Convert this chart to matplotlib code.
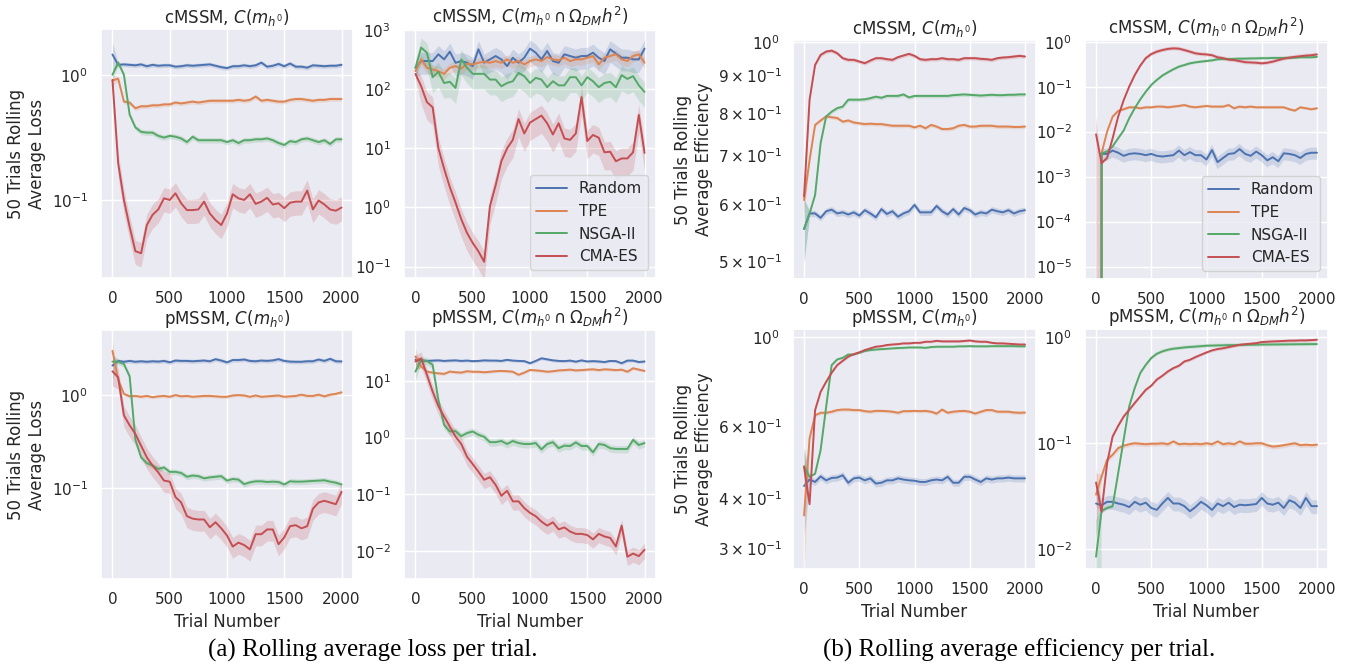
import matplotlib
matplotlib.use("Agg")
import matplotlib.pyplot as plt
import numpy as np
import seaborn as sns

sns.set_theme(style="darkgrid")
plt.rcParams["font.family"] = ["DejaVu Sans"]

trials = np.arange(0, 2001, 50)
METHODS = ["Random", "TPE", "NSGA-II", "CMA-ES"]
COLORS = sns.color_palette("deep")[:4]

# ---- (a) rolling average loss ----
a1_random = [1.45, 1.20, 1.21, 1.20, 1.19, 1.21, 1.17, 1.20, 1.18, 1.19, 1.19, 1.16, 1.17, 1.19, 1.18, 1.19, 1.20, 1.21, 1.18, 1.15, 1.13,
             1.17, 1.17, 1.19, 1.17, 1.19, 1.25, 1.16, 1.18, 1.22, 1.17, 1.23, 1.16, 1.16, 1.14, 1.19, 1.18, 1.17, 1.18, 1.18, 1.20]
a1_tpe = [0.90, 0.93, 0.61, 0.60, 0.54, 0.56, 0.56, 0.57, 0.57, 0.58, 0.58, 0.60, 0.59, 0.60, 0.61, 0.60, 0.61, 0.62, 0.62, 0.62, 0.62,
          0.62, 0.63, 0.62, 0.63, 0.67, 0.62, 0.63, 0.62, 0.61, 0.61, 0.63, 0.64, 0.64, 0.63, 0.62, 0.63, 0.63, 0.64, 0.64, 0.64]
a1_nsga = [1.00, 1.25, 1.00, 0.48, 0.38, 0.35, 0.345, 0.345, 0.325, 0.315, 0.325, 0.32, 0.31, 0.29, 0.32, 0.30, 0.30, 0.30, 0.30, 0.30, 0.29,
           0.30, 0.285, 0.30, 0.30, 0.305, 0.305, 0.31, 0.30, 0.285, 0.275, 0.295, 0.29, 0.305, 0.31, 0.30, 0.29, 0.30, 0.28, 0.305, 0.305]
a1_cma = [0.91, 0.196, 0.10, 0.061, 0.039, 0.0375, 0.063, 0.076, 0.084, 0.103, 0.10, 0.113, 0.094, 0.083, 0.083, 0.084, 0.097, 0.078, 0.069, 0.063, 0.078,
          0.111, 0.103, 0.10, 0.111, 0.093, 0.097, 0.104, 0.092, 0.094, 0.086, 0.095, 0.097, 0.097, 0.119, 0.084, 0.099, 0.092, 0.084, 0.082, 0.087]

a2_random = [228, 296, 296, 296, 385, 316, 427, 277, 296, 277, 243, 468, 277, 316, 360, 316, 243, 337, 277, 337, 480,
             410, 316, 438, 296, 277, 385, 360, 337, 360, 360, 410, 337, 296, 468, 395, 337, 337, 316, 316, 480]
a2_tpe = [200, 316, 228, 213, 200, 180, 228, 243, 222, 266, 260, 277, 288, 277, 296, 277, 316, 277, 296, 260, 296,
          316, 296, 346, 316, 305, 337, 296, 316, 316, 337, 360, 260, 337, 360, 385, 316, 296, 360, 385, 277]
a2_nsga = [228, 500, 410, 158, 195, 126, 132, 104, 316, 228, 180, 180, 180, 144, 144, 111, 126, 135, 187, 164, 126,
           154, 144, 107, 135, 115, 115, 158, 158, 115, 158, 135, 107, 126, 132, 107, 171, 148, 164, 115, 89]
a2_cma = [180, 111, 60, 49, 10, 4.5, 2.2, 1.2, 0.63, 0.37, 0.25, 0.18, 0.12, 1.04, 2.35, 6.0, 9.9, 13.8, 31, 17.7, 27,
          31, 35.5, 26.3, 17, 26.3, 14.6, 13.8, 17.7, 73, 13.2, 16.7, 15, 8.5, 8.7, 6.0, 6.7, 6.7, 8.5, 36.5, 8.3]

a3_random = [2.05, 2.30, 2.25, 2.30, 2.25, 2.28, 2.25, 2.28, 2.26, 2.30, 2.22, 2.32, 2.30, 2.30, 2.28, 2.30, 2.32, 2.28, 2.40, 2.32, 2.22,
             2.35, 2.35, 2.38, 2.30, 2.28, 2.32, 2.30, 2.33, 2.40, 2.30, 2.26, 2.25, 2.25, 2.28, 2.28, 2.38, 2.30, 2.42, 2.28, 2.27]
a3_tpe = [2.95, 1.45, 1.02, 0.96, 0.97, 0.95, 0.97, 0.94, 0.96, 0.97, 0.95, 0.99, 0.96, 0.97, 0.95, 0.96, 0.97, 0.97, 0.96, 0.95, 0.95,
          0.98, 0.99, 0.98, 0.95, 0.98, 0.95, 0.96, 0.97, 0.98, 0.95, 0.96, 0.97, 1.00, 0.97, 0.97, 1.00, 0.96, 1.00, 1.02, 1.06]
a3_nsga = [2.26, 2.26, 2.13, 1.57, 0.33, 0.213, 0.185, 0.174, 0.16, 0.166, 0.149, 0.149, 0.145, 0.132, 0.136, 0.134, 0.127, 0.13, 0.132, 0.134, 0.12,
           0.125, 0.123, 0.11, 0.115, 0.118, 0.118, 0.116, 0.117, 0.116, 0.109, 0.118, 0.117, 0.117, 0.118, 0.119, 0.12, 0.121, 0.117, 0.114, 0.109]
a3_cma = [1.78, 1.53, 0.60, 0.47, 0.38, 0.284, 0.213, 0.174, 0.147, 0.12, 0.117, 0.08, 0.07, 0.05, 0.047, 0.046, 0.046, 0.038, 0.043, 0.037, 0.031,
          0.0236, 0.026, 0.0245, 0.022, 0.032, 0.032, 0.036, 0.036, 0.025, 0.0296, 0.039, 0.04, 0.037, 0.039, 0.06, 0.07, 0.073, 0.07, 0.067, 0.091]

a4_random = [23.5, 22.8, 22.5, 22.8, 23, 22.5, 22.8, 23, 22.5, 22.8, 22.3, 22.5, 23, 22.8, 22.8, 22.5, 23.5, 22.8, 22.5, 22.3, 20.5,
             22.5, 25, 24, 23, 22.5, 22.3, 22.8, 21.8, 23, 22, 22.3, 22, 21.5, 22.5, 22.3, 20.5, 22.8, 22.8, 21.5, 22]
a4_tpe = [26.9, 17.9, 14.6, 14.0, 13.6, 13.3, 14.6, 14.2, 14.0, 14.8, 14.5, 14.5, 14.2, 14.5, 14.8, 15, 14.8, 14.5, 12.8, 14.0, 15.6,
          15.3, 15, 14.5, 14.8, 15.3, 15.5, 15.8, 15.3, 15.5, 15.8, 16, 15.5, 16, 15.8, 15.5, 15.8, 14.5, 16.7, 15.8, 15]
a4_nsga = [14.6, 23.5, 22.5, 19.2, 4.6, 1.67, 1.28, 1.3, 1.06, 1.2, 1.28, 1.12, 1.03, 0.83, 0.83, 0.87, 0.77, 0.87, 0.8, 0.77, 0.77,
           0.8, 0.62, 0.77, 0.83, 0.65, 0.72, 0.71, 0.82, 0.71, 0.71, 0.55, 0.77, 0.74, 0.65, 0.63, 0.63, 0.63, 0.91, 0.74, 0.8]
a4_cma = [22, 25, 12.8, 6.5, 3.6, 2.35, 1.56, 1.04, 0.77, 0.46, 0.34, 0.25, 0.18, 0.2, 0.146, 0.094, 0.115, 0.075, 0.075, 0.057, 0.047,
          0.041, 0.033, 0.028, 0.032, 0.024, 0.026, 0.022, 0.02, 0.02, 0.0191, 0.016, 0.02, 0.018, 0.017, 0.012, 0.028, 0.0079, 0.009, 0.0081, 0.0105]

# ---- (b) rolling average efficiency ----
b1_random = [0.554, 0.582, 0.582, 0.574, 0.586, 0.589, 0.582, 0.584, 0.580, 0.584, 0.578, 0.588, 0.582, 0.575, 0.590, 0.581, 0.586, 0.576, 0.582, 0.586, 0.598,
             0.584, 0.584, 0.584, 0.596, 0.586, 0.580, 0.590, 0.580, 0.592, 0.588, 0.580, 0.584, 0.582, 0.589, 0.586, 0.584, 0.588, 0.582, 0.586, 0.588]
b1_tpe = [0.607, 0.689, 0.770, 0.781, 0.791, 0.789, 0.787, 0.778, 0.781, 0.776, 0.774, 0.772, 0.773, 0.772, 0.772, 0.770, 0.768, 0.768, 0.768, 0.768, 0.764,
          0.768, 0.762, 0.770, 0.766, 0.760, 0.760, 0.762, 0.768, 0.770, 0.766, 0.766, 0.768, 0.768, 0.768, 0.766, 0.766, 0.766, 0.765, 0.765, 0.766]
b1_nsga = [0.554, 0.582, 0.617, 0.727, 0.791, 0.803, 0.812, 0.816, 0.834, 0.834, 0.834, 0.835, 0.838, 0.842, 0.839, 0.844, 0.844, 0.844, 0.848, 0.840, 0.844,
           0.844, 0.844, 0.844, 0.844, 0.844, 0.844, 0.846, 0.847, 0.848, 0.847, 0.846, 0.845, 0.846, 0.847, 0.846, 0.846, 0.847, 0.847, 0.848, 0.848]
b1_cma = [0.614, 0.834, 0.931, 0.961, 0.971, 0.974, 0.966, 0.951, 0.946, 0.946, 0.941, 0.936, 0.944, 0.951, 0.951, 0.948, 0.946, 0.954, 0.959, 0.964, 0.958,
          0.948, 0.946, 0.948, 0.948, 0.951, 0.948, 0.948, 0.946, 0.951, 0.951, 0.951, 0.949, 0.948, 0.946, 0.951, 0.953, 0.954, 0.956, 0.958, 0.956]

b2_random = [0.0, 0.0032, 0.0032, 0.0038, 0.0034, 0.0029, 0.0032, 0.0033, 0.0032, 0.0030, 0.0032, 0.0029, 0.0028, 0.0029, 0.0030, 0.0038, 0.0030, 0.0035, 0.0030, 0.0030, 0.0024,
             0.0039, 0.0021, 0.0026, 0.0032, 0.0033, 0.0041, 0.0032, 0.0029, 0.0036, 0.0030, 0.0023, 0.0027, 0.0022, 0.0033, 0.0032, 0.0030, 0.0026, 0.0032, 0.0034, 0.0034]
b2_tpe = [0.0, 0.0033, 0.010, 0.0215, 0.0288, 0.0314, 0.0347, 0.0347, 0.033, 0.0347, 0.0347, 0.036, 0.036, 0.0347, 0.036, 0.0372, 0.039, 0.036, 0.0347, 0.036, 0.0372,
          0.036, 0.036, 0.036, 0.039, 0.033, 0.036, 0.0347, 0.036, 0.0347, 0.0347, 0.0347, 0.0347, 0.0347, 0.0347, 0.0314, 0.0293, 0.0347, 0.033, 0.0314, 0.033]
b2_nsga = [0.0, 0.0033, 0.0036, 0.0047, 0.0071, 0.0106, 0.0198, 0.033, 0.052, 0.077, 0.109, 0.141, 0.176, 0.208, 0.243, 0.278, 0.303, 0.33, 0.347, 0.36, 0.372,
           0.385, 0.405, 0.41, 0.41, 0.415, 0.42, 0.42, 0.425, 0.425, 0.43, 0.43, 0.435, 0.435, 0.435, 0.44, 0.44, 0.45, 0.45, 0.45, 0.46]
b2_cma = [0.0087, 0.002, 0.0026, 0.0071, 0.0215, 0.05, 0.1, 0.18, 0.293, 0.43, 0.53, 0.6, 0.65, 0.69, 0.71, 0.70, 0.65, 0.6, 0.55, 0.53, 0.52,
          0.5, 0.45, 0.43, 0.4, 0.39, 0.37, 0.35, 0.345, 0.34, 0.33, 0.34, 0.36, 0.39, 0.42, 0.44, 0.46, 0.475, 0.49, 0.5, 0.52]

b3_random = [0.428, 0.444, 0.438, 0.452, 0.442, 0.448, 0.449, 0.455, 0.436, 0.447, 0.449, 0.442, 0.447, 0.434, 0.436, 0.442, 0.442, 0.447, 0.444, 0.442, 0.441,
             0.438, 0.438, 0.442, 0.444, 0.442, 0.451, 0.436, 0.436, 0.451, 0.451, 0.444, 0.438, 0.447, 0.444, 0.447, 0.447, 0.449, 0.447, 0.447, 0.447]
b3_tpe = [0.362, 0.561, 0.640, 0.649, 0.649, 0.653, 0.659, 0.661, 0.661, 0.659, 0.659, 0.655, 0.653, 0.656, 0.656, 0.655, 0.653, 0.649, 0.655, 0.655, 0.656,
          0.655, 0.656, 0.653, 0.646, 0.661, 0.649, 0.653, 0.655, 0.656, 0.653, 0.646, 0.653, 0.659, 0.659, 0.653, 0.653, 0.653, 0.650, 0.649, 0.650]
b3_nsga = [0.479, 0.451, 0.459, 0.525, 0.671, 0.851, 0.879, 0.887, 0.904, 0.904, 0.913, 0.922, 0.927, 0.930, 0.932, 0.934, 0.936, 0.938, 0.939, 0.941, 0.941,
           0.941, 0.939, 0.943, 0.945, 0.945, 0.945, 0.945, 0.947, 0.947, 0.948, 0.947, 0.947, 0.947, 0.948, 0.948, 0.948, 0.948, 0.948, 0.947, 0.947]
b3_cma = [0.477, 0.386, 0.659, 0.731, 0.774, 0.815, 0.851, 0.872, 0.893, 0.906, 0.915, 0.927, 0.936, 0.945, 0.948, 0.954, 0.957, 0.959, 0.963, 0.963, 0.966,
          0.966, 0.972, 0.972, 0.977, 0.974, 0.974, 0.974, 0.974, 0.976, 0.979, 0.974, 0.972, 0.972, 0.966, 0.963, 0.963, 0.961, 0.959, 0.957, 0.957]

b4_random = [0.027, 0.026, 0.028, 0.028, 0.027, 0.0263, 0.025, 0.028, 0.0263, 0.0275, 0.0245, 0.0235, 0.027, 0.0305, 0.027, 0.027, 0.0255, 0.0228, 0.025, 0.028, 0.026,
             0.0235, 0.027, 0.0255, 0.0275, 0.025, 0.0263, 0.026, 0.0263, 0.0267, 0.0305, 0.027, 0.0263, 0.0275, 0.0245, 0.029, 0.0275, 0.0245, 0.0305, 0.0255, 0.0255]
b4_tpe = [0.0327, 0.0487, 0.07, 0.078, 0.09, 0.095, 0.098, 0.1, 0.099, 0.098, 0.099, 0.099, 0.1, 0.098, 0.104, 0.098, 0.099, 0.098, 0.099, 0.098, 0.1,
          0.098, 0.104, 0.098, 0.1, 0.098, 0.104, 0.099, 0.099, 0.1, 0.1, 0.096, 0.093, 0.094, 0.096, 0.098, 0.1, 0.096, 0.097, 0.096, 0.097]
b4_nsga = [0.0085, 0.023, 0.0245, 0.0254, 0.052, 0.108, 0.223, 0.332, 0.46, 0.55, 0.638, 0.7, 0.737, 0.764, 0.782, 0.792, 0.804, 0.812, 0.818, 0.826, 0.834,
           0.837, 0.84, 0.842, 0.845, 0.846, 0.848, 0.85, 0.852, 0.853, 0.855, 0.856, 0.857, 0.858, 0.859, 0.86, 0.861, 0.862, 0.863, 0.864, 0.865]
b4_cma = [0.0426, 0.0226, 0.065, 0.116, 0.146, 0.179, 0.207, 0.24, 0.277, 0.32, 0.35, 0.4, 0.434, 0.477, 0.513, 0.54, 0.593, 0.615, 0.652, 0.686, 0.721,
          0.754, 0.776, 0.79, 0.81, 0.83, 0.852, 0.862, 0.872, 0.882, 0.904, 0.91, 0.916, 0.92, 0.926, 0.932, 0.932, 0.937, 0.937, 0.943, 0.95]

# relative spread of the shaded band: (first point, rest) per method
a1_spread = [(0.25, 0.04), (0.1, 0.04), (0.1, 0.05), (0.1, 0.22)]
a2_spread = [(0.3, 0.4), (0.2, 0.2), (0.3, 0.45), (0.2, 0.5)]
a3_spread = [(0.3, 0.05), (0.3, 0.04), (0.1, 0.07), (0.3, 0.25)]
a4_spread = [(0.2, 0.06), (0.4, 0.06), (0.3, 0.15), (0.3, 0.3)]
b1_spread = [(0.1, 0.01), (0.05, 0.006), (0.1, 0.006), (0.05, 0.006)]
b2_spread = [(1.0, 0.3), (1.0, 0.08), (1.0, 0.08), (1.5, 0.1)]
b3_spread = [(0.25, 0.02), (0.3, 0.01), (0.1, 0.006), (0.1, 0.006)]
b4_spread = [(0.5, 0.15), (0.6, 0.05), (1.2, 0.04), (0.4, 0.03)]

T_CH = r"cMSSM, $C(m_{h^0})$"
T_CO = r"cMSSM, $C(m_{h^0} \cap \Omega_{DM}h^2)$"
T_PH = r"pMSSM, $C(m_{h^0})$"
T_PO = r"pMSSM, $C(m_{h^0} \cap \Omega_{DM}h^2)$"
YL_LOSS = "50 Trials Rolling\nAverage Loss"
YL_EFF = "50 Trials Rolling\nAverage Efficiency"

W, H = 1361, 664
# (left, top, right, bottom) in pixels, title, series, spread, ylim, ylabel, xlabel, legend
panels = [
    ((101, 29, 353, 278), T_CH, [a1_random, a1_tpe, a1_nsga, a1_cma], a1_spread, (0.0238, 2.32), YL_LOSS, False, False),
    ((404, 29, 656, 278), T_CO, [a2_random, a2_tpe, a2_nsga, a2_cma], a2_spread, (0.064, 1030), None, False, True),
    ((101, 330, 353, 579), T_PH, [a3_random, a3_tpe, a3_nsga, a3_cma], a3_spread, (0.0106, 4.93), YL_LOSS, True, False),
    ((404, 330, 656, 579), T_PO, [a4_random, a4_tpe, a4_nsga, a4_cma], a4_spread, (0.0032, 79), None, True, False),
    ((793, 40, 1036, 279), T_CH, [b1_random, b1_tpe, b1_nsga, b1_cma], b1_spread, (0.473, 1.0073), YL_EFF, False, False),
    ((1085, 40, 1328, 279), T_CO, [b2_random, b2_tpe, b2_nsga, b2_cma], b2_spread, (5.3e-6, 1.09), None, False, True),
    ((793, 329, 1036, 569), T_PH, [b3_random, b3_tpe, b3_nsga, b3_cma], b3_spread, (0.267, 1.045), YL_EFF, True, False),
    ((1085, 329, 1328, 569), T_PO, [b4_random, b4_tpe, b4_nsga, b4_cma], b4_spread, (0.0065, 1.2), None, True, False),
]

fig = plt.figure(figsize=(W / 100, H / 100), dpi=100)

for (l, t, r, b), title, series, spread, ylim, ylabel, xlabel, legend in panels:
    ax = fig.add_axes([l / W, 1 - b / H, (r - l) / W, (b - t) / H])
    ax.set_yscale("log", nonpositive="clip")
    for name, vals, (s0, s), col in zip(METHODS, series, spread, COLORS):
        m = np.array(vals, dtype=float)
        rel = np.full(len(m), s)
        rel[0] = s0
        ax.fill_between(trials, m * (1 - rel), m * (1 + rel), color=col, alpha=0.2, linewidth=0)
        ax.plot(trials, m, color=col, lw=1.4, label=name)
    ax.set_ylim(*ylim)
    ax.set_xticks([0, 500, 1000, 1500, 2000])
    ax.set_title(title, fontsize=12, pad=4)
    if ylabel:
        ax.set_ylabel(ylabel, fontsize=12)
    if xlabel:
        ax.set_xlabel("Trial Number", fontsize=12)
    if legend:
        ax.legend(loc="lower right", fontsize=11)

cap_font = ["Liberation Serif", "DejaVu Serif"]
fig.text(373 / W, 1 - 657 / H, "(a) Rolling average loss per trial.", ha="center", va="baseline",
         fontsize=18, family=cap_font, color="black")
fig.text(1019 / W, 1 - 657 / H, "(b) Rolling average efficiency per trial.", ha="center", va="baseline",
         fontsize=18, family=cap_font, color="black")

fig.savefig("out.png", dpi=100)
